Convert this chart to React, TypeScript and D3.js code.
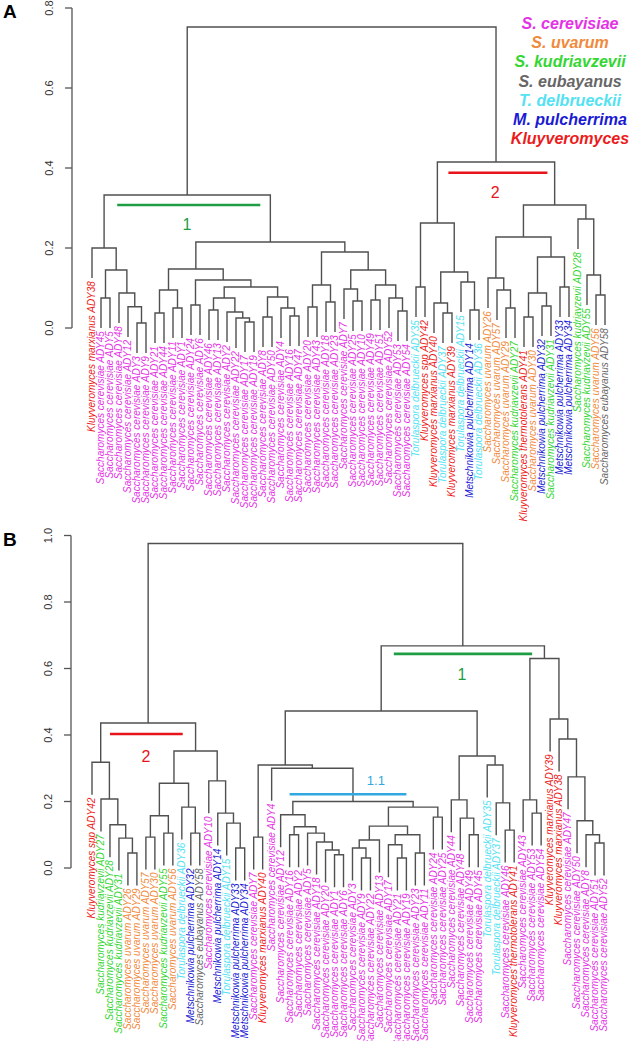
import React from 'react';
import * as d3 from 'd3';

type Tree = number | [Tree, Tree, number];

// ---------- species / legend ----------
const SPECIES_NAMES = ['S. cerevisiae', 'S. uvarum', 'S. kudriavzevii', 'S. eubayanus', 'T. delbrueckii', 'M. pulcherrima', 'Kluyveromyces'];
const SPECIES_COLORS = ['#e433e4', '#f08a3c', '#34d634', '#666666', '#52e2f2', '#1a1ad2', '#ec1c1c'];

// ---------- strains (ADY numbers) ----------
const CEREVISIAE = [1, 2, 3, 4, 5, 6, 7, 8, 9, 10, 11, 12, 13, 16, 17, 18, 19, 20, 21, 22, 23, 24, 25, 43, 44, 45, 46, 47, 48, 49, 50, 51, 52, 53, 54];
const UVARUM = [26, 29, 30, 56, 57];
const KUDRIAVZEVII = [27, 28, 31, 55];
const EUBAYANUS = [58];
const DELBRUECKII = [15, 35, 36, 37];
const PULCHERRIMA = [14, 32, 33, 34];
const K_MARXIANUS = [38, 39, 40];
const K_THERMO = [41];
const K_SPP = [42];

const STRAIN_GROUPS: [string, number, number[]][] = [
  ['Saccharomyces cerevisiae', 0, CEREVISIAE],
  ['Saccharomyces uvarum', 1, UVARUM],
  ['Saccharomyces kudriavzevii', 2, KUDRIAVZEVII],
  ['Saccharomyces eubayanus', 3, EUBAYANUS],
  ['Torulaspora delbrueckii', 4, DELBRUECKII],
  ['Metschnikowia pulcherrima', 5, PULCHERRIMA],
  ['Kluyveromyces marxianus', 6, K_MARXIANUS],
  ['Kluyveromyces thermotolerans', 6, K_THERMO],
  ['Kluyveromyces spp', 6, K_SPP],
];

// ---------- leaf order ----------
const ORDER_A = [
  38, 45, 5, 48, 12, 3, 9, 21, 44, 11, 1, 24, 6, 46, 13, 2, 22, 17, 19, 8, 50, 4, 16, 47, 20, 43, 18, 23, 7, 25, 10, 49, 51, 52, 53, 54,
  35, 42, 40, 37, 39, 15, 14, 36, 26, 57, 29, 27, 41, 30, 32, 31, 33, 34, 28, 55, 56, 58,
];
const ORDER_B = [
  42, 27, 28, 31, 26, 29, 57, 30, 55, 56, 36, 32, 58, 10, 14, 15, 33, 34, 7, 40, 4,
  12, 16, 2, 5, 18, 20, 1, 6, 3, 9, 22, 13, 17, 21, 19, 23, 11, 24, 25,
  44, 48, 49, 45, 35, 37, 46, 41, 43, 53, 54, 39, 38, 47, 50, 8, 51, 52,
];

// ---------- merge trees: [left, right, height], leaves = position in order ----------
const TREE_A: Tree = [
  [
    [0, [[1, 2, 0.075], [3, [4, [5, 6, 0.0125], 0.053], 0.0875], 0.145], 0.2],
    [
      [
        [[7, 8, 0.0375], [9, 10, 0.05], 0.095],
        [[11, 12, 0.0575],
          [[[13, 14, 0.045], [15, [16, [17, 18, 0.015], 0.025], 0.04], 0.075],
           [[19, 20, 0.0275], [21, [22, 23, 0.03], 0.05], 0.0775], 0.1025], 0.12],
        0.1475,
      ],
      [
        [[24, 25, 0.0525], [26, 27, 0.065], 0.1075],
        [[28, [29, 30, 0.0675], 0.0975], [[31, 32, 0.07], [33, [34, 35, 0.0425], 0.075], 0.1075], 0.145],
        0.19,
      ],
      0.215,
    ],
    0.3325,
  ],
  [
    [[36, 37, 0.1025], [[38, [39, 40, 0.0375], 0.0625], [41, [42, 43, 0.045], 0.115], 0.14], 0.2625],
    [
      [[44, [45, [46, 47, 0.05], 0.095], 0.125], [[[48, 49, 0.0275], [50, 51, 0.055], 0.0875], [52, 53, 0.1025], 0.1775], 0.2275],
      [54, [55, [56, 57, 0.0825], 0.1325], 0.2725],
      0.3075,
    ],
    0.415,
  ],
  0.7525,
];

const TREE_B: Tree = [
  [
    [0, [1, [2, [3, [4, 5, 0.045], 0.09], 0.13], 0.2075], 0.318],
    [
      [[[6, 7, 0.093], [8, 9, 0.105], 0.157], [10, [11, 12, 0.105], 0.183], 0.255],
      [13, [14, [15, [16, 17, 0.06], 0.135], 0.165], 0.262],
      0.352,
    ],
    0.436,
  ],
  [
    [
      [
        [18, 19, 0.093],
        [20,
          [
            [21, [[22, 23, 0.1], [24, [25, [26, [27, 28, 0.04], 0.054], 0.078], 0.105], 0.124], 0.16],
            [[[[29, [30, 31, 0.03], 0.06], 32, 0.084], [[33, [34, 35, 0.03], 0.07], [36, 37, 0.045], 0.1], 0.126], [38, 39, 0.153], 0.183],
            0.2,
          ],
          0.3],
        0.31,
      ],
      [[40, [41, [42, 43, 0.1], 0.15], 0.205], [44, [45, [46, 47, 0.114], 0.196], 0.31], 0.337],
      0.472,
    ],
    [[48, [49, 50, 0.165], 0.205], [51, [52, [53, [54, [55, [56, 57, 0.075], 0.1], 0.142], 0.274], 0.388], 0.448], 0.63],
    0.668,
  ],
  0.976,
];

const TICKS_A = [0, 0.2, 0.4, 0.6, 0.8];
const TICKS_B = [0, 0.2, 0.4, 0.6, 0.8, 1.0];

// cluster annotations (height in data units, span in leaf-position units)
const NOTES_A = [
  { text: '1', color: '#1f9d43', h: 0.3075, from: 2.8, to: 18.7, textH: 0.245, textAt: 10.55, size: 16 },
  { text: '2', color: '#e8141b', h: 0.388, from: 39.6, to: 50.6, textH: 0.325, textAt: 44.8, size: 16 },
];
const NOTES_B = [
  { text: '2', color: '#e8141b', h: 0.403, from: 2.0, to: 10.1, textH: 0.319, textAt: 6.0, size: 16 },
  { text: '1', color: '#1f9d43', h: 0.644, from: 33.6, to: 49.0, textH: 0.565, textAt: 41.2, size: 16 },
  { text: '1.1', color: '#33a8e0', h: 0.222, from: 22.0, to: 35.0, textH: 0.25, textAt: 31.6, size: 13 },
];

// ---------- helpers ----------
const STRAINS: Record<number, { name: string; sp: number }> = {};
STRAIN_GROUPS.forEach(([name, sp, list]) => list.forEach((n) => { STRAINS[n] = { name: `${name} ADY${n}`, sp }; }));

function rootHeight(t: Tree): number { return typeof t === 'number' ? 0 : t[2]; }

function layoutTree(tree: Tree, x: (i: number) => number, y: (h: number) => number, hang: number) {
  let d = '';
  const leaves: { i: number; x: number; yEnd: number }[] = [];
  const rec = (n: Tree): { x: number; h: number | null; i: number } => {
    if (typeof n === 'number') return { x: x(n), h: null, i: n };
    const [a, b, h] = n;
    const ra = rec(a);
    const rb = rec(b);
    const yh = y(h);
    const ya = ra.h === null ? y(h - hang) : y(ra.h);
    const yb = rb.h === null ? y(h - hang) : y(rb.h);
    if (ra.h === null) leaves.push({ i: ra.i, x: ra.x, yEnd: ya });
    if (rb.h === null) leaves.push({ i: rb.i, x: rb.x, yEnd: yb });
    d += `M${ra.x},${ya}V${yh}H${rb.x}V${yb}`;
    return { x: (ra.x + rb.x) / 2, h, i: -1 };
  };
  rec(tree);
  return { d, leaves };
}

const FONT = "'Liberation Sans', Arial, Helvetica, sans-serif";

function Panel(props: {
  tree: Tree; order: number[]; ticks: number[]; yRange: [number, number]; yMax: number;
  xRange: [number, number]; axisX: number; letter: string; letterY: number; notes: typeof NOTES_A;
}) {
  const { tree, order, ticks, yRange, yMax, xRange, axisX, letter, letterY, notes } = props;
  const x = d3.scaleLinear().domain([0, order.length - 1]).range(xRange);
  const y = d3.scaleLinear().domain([0, yMax]).range(yRange);
  const hang = 0.1 * rootHeight(tree);
  const { d, leaves } = layoutTree(tree, x, y, hang);
  const fmt = d3.format('.1f');
  return (
    <g>
      <text x={3} y={letterY} fontSize={19} fontWeight="bold" fill="#000">{letter}</text>
      {/* axis */}
      <path d={`M${axisX},${y(ticks[0])}V${y(ticks[ticks.length - 1])}`} stroke="#555" strokeWidth={1.3} fill="none" />
      {ticks.map((t) => (
        <g key={t}>
          <path d={`M${axisX - 7},${y(t)}H${axisX}`} stroke="#555" strokeWidth={1.3} />
          <text transform={`translate(${axisX - 19},${y(t)}) rotate(-90)`} textAnchor="middle" fontSize={11} fill="#333">{fmt(t)}</text>
        </g>
      ))}
      {/* dendrogram */}
      <path d={d} stroke="#505050" strokeWidth={1.4} fill="none" />
      {leaves.map((l) => {
        const s = STRAINS[order[l.i]];
        return (
          <text key={l.i} transform={`translate(${l.x},${l.yEnd + 3}) rotate(-90)`} textAnchor="end" dy="0.33em"
            fontSize={10} fontStyle="italic" fill={SPECIES_COLORS[s.sp]}>{s.name}</text>
        );
      })}
      {notes.map((n) => (
        <g key={n.text}>
          <path d={`M${x(n.from)},${y(n.h)}H${x(n.to)}`} stroke={n.color} strokeWidth={2.6} />
          <text x={x(n.textAt)} y={y(n.textH)} textAnchor="middle" fontSize={n.size} fill={n.color}>{n.text}</text>
        </g>
      ))}
    </g>
  );
}

export default function App() {
  return (
    <svg width={633} height={1041} style={{ position: 'absolute', left: 0, top: 0, background: '#fff' }} fontFamily={FONT}>
      <rect width={633} height={1041} fill="#fff" />
      <Panel tree={TREE_A} order={ORDER_A} ticks={TICKS_A} yRange={[328, 8]} yMax={0.8} xRange={[92, 605]}
        axisX={72} letter="A" letterY={18} notes={NOTES_A} />
      <Panel tree={TREE_B} order={ORDER_B} ticks={TICKS_B} yRange={[868, 535.5]} yMax={1.0} xRange={[92, 604]}
        axisX={71} letter="B" letterY={546} notes={NOTES_B} />
      {SPECIES_NAMES.map((s, i) => (
        <text key={s} x={570} y={29 + i * 19.2} textAnchor="middle" fontSize={16} fontWeight="bold" fontStyle="italic"
          fill={SPECIES_COLORS[i]}>{s}</text>
      ))}
    </svg>
  );
}
